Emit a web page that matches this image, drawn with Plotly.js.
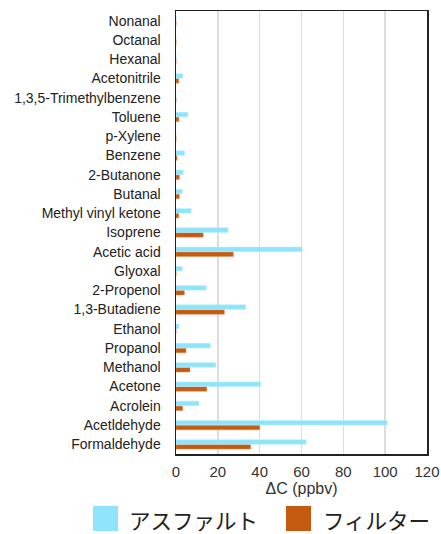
<!DOCTYPE html>
<html><head><meta charset="utf-8">
<script src="https://cdn.plot.ly/plotly-3.0.1.min.js"></script>
<style>body{margin:0;background:#fff}#c{width:441px;height:534px}</style>
</head><body><div id="c"></div>
<script>
const categories = ["Formaldehyde","Acetldehyde","Acrolein","Acetone","Methanol","Propanol","Ethanol","1,3-Butadiene","2-Propenol","Glyoxal","Acetic acid","Isoprene","Methyl vinyl ketone","Butanal","2-Butanone","Benzene","p-Xylene","Toluene","1,3,5-Trimethylbenzene","Acetonitrile","Hexanal","Octanal","Nonanal"];
const asphalt = [62.2,101,11,40.4,19,16.4,1.4,33.3,14.4,3,60.3,24.9,7.3,3,3.5,4.1,0,5.6,0,3.2,0,0,0];
const filter  = [35.7,40,3.2,14.7,6.7,4.8,0,23.1,4,0,27.4,13,1.3,1.6,1.6,0.5,0,1.4,0,1.3,0,0,0];
const seriesNames = ["アスファルト","フィルター"];
const xTicks = [0,20,40,60,80,100,120];

const blue = "#8fe4fb", orange = "#c55a11";
const F = "'Liberation Sans', Arial, sans-serif";
const traces = [
  {type:"bar", orientation:"h", name:seriesNames[1], y:categories, x:filter,
   marker:{color:orange, line:{color:"#e08a55", width:0.5}}},
  {type:"bar", orientation:"h", name:seriesNames[0], y:categories, x:asphalt,
   marker:{color:blue, line:{color:"#b5efff", width:0.5}}}
];
const layout = {
  width:441, height:534,
  margin:{l:176, r:14, t:11, b:80},
  barmode:"group", bargap:0.5, bargroupgap:0.05,
  showlegend:false,
  paper_bgcolor:"#fff", plot_bgcolor:"#fff",
  font:{family:F, color:"#222"},
  xaxis:{range:[0,120], tickvals:xTicks, ticktext:xTicks.map(String),
    showgrid:true, gridcolor:"#dddddd", gridwidth:1.5, zeroline:false,
    showline:true, linecolor:"#222", linewidth:1.5, mirror:true,
    ticks:"", tickfont:{family:F, size:15, color:"#333"}, ticklabelstandoff:3,
    title:{text:"ΔC (ppbv)", font:{family:F, size:16, color:"#333"}, standoff:4}},
  yaxis:{type:"category", categoryorder:"array", categoryarray:categories,
    showgrid:false, zeroline:false, showline:true, linecolor:"#222", linewidth:1.5, mirror:true,
    ticks:"", tickfont:{family:F, size:14, color:"#222"}, ticklabelstandoff:11},
  shapes:[
    {type:"rect", xref:"paper", yref:"paper", x0:(93-176)/251, x1:(118-176)/251, y0:-(506-454)/443, y1:-(531-454)/443, fillcolor:blue, line:{width:0}},
    {type:"rect", xref:"paper", yref:"paper", x0:(286-176)/251, x1:(311-176)/251, y0:-(506-454)/443, y1:-(531-454)/443, fillcolor:orange, line:{width:0}}
  ],
  annotations:[
    {xref:"paper", yref:"paper", x:(127-176)/251, y:-(519-454)/443, xanchor:"left", yanchor:"middle", showarrow:false,
     text:seriesNames[0], font:{family:"Noto Sans CJK JP", size:21.5, color:"#222"}},
    {xref:"paper", yref:"paper", x:(321-176)/251, y:-(519-454)/443, xanchor:"left", yanchor:"middle", showarrow:false,
     text:seriesNames[1], font:{family:"Noto Sans CJK JP", size:21.5, color:"#222"}}
  ]
};
Plotly.newPlot("c", traces, layout, {displayModeBar:false, staticPlot:true});
</script></body></html>
